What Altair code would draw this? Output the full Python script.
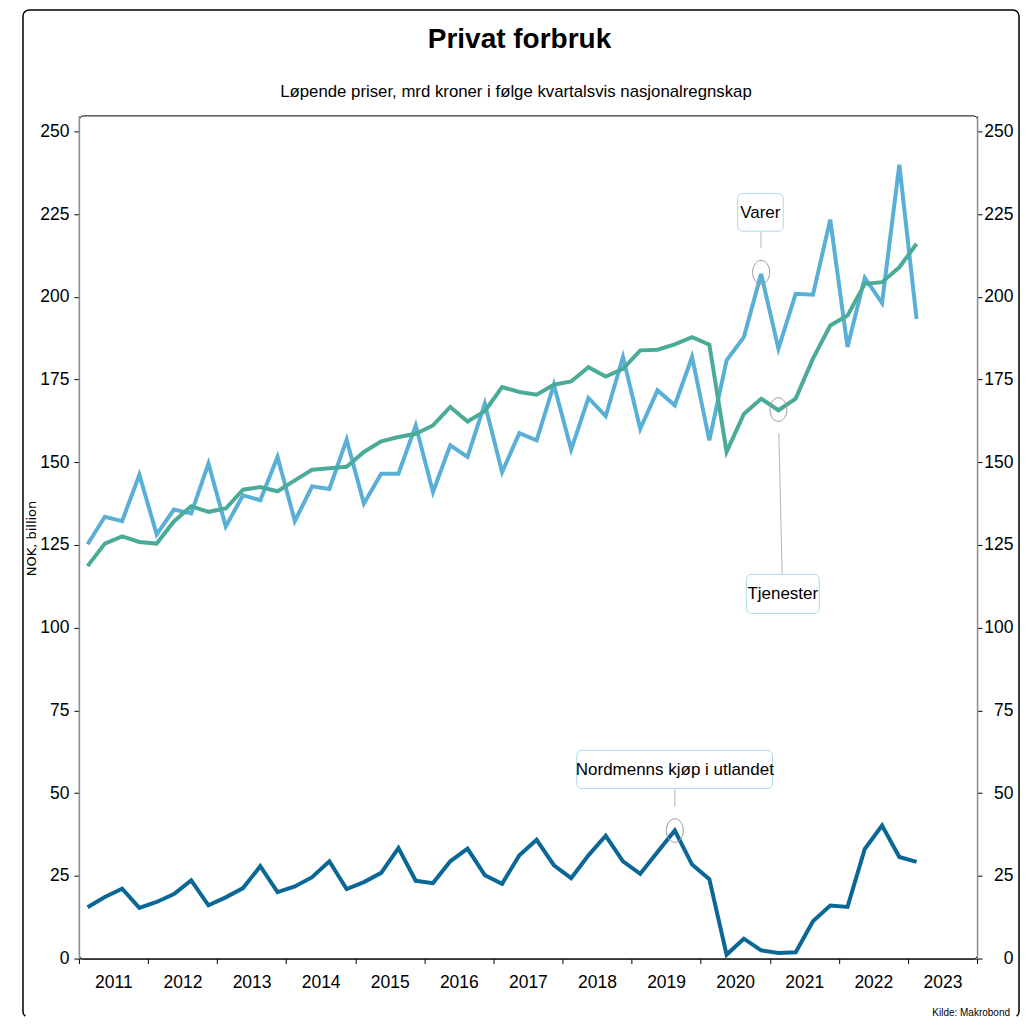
import altair as alt
import pandas as pd

NARROW = "Liberation Sans, Arial, sans-serif"
REG = "Liberation Sans, Arial, sans-serif"

# ---------------- data ----------------
quarters = [f"{y}Q{q}" for y in range(2011, 2024) for q in range(1, 5)][:49]

varer = [125.2, 133.5, 132.2, 146.2, 128.2, 135.7, 134.5, 149.6, 130.6, 140.0,
         138.5, 151.6, 132.2, 142.7, 141.9, 156.8, 137.5, 146.5, 146.5, 161.1,
         141.0, 155.1, 151.6, 167.7, 147.0, 158.8, 156.6, 173.4, 153.8, 169.4,
         163.9, 181.8, 160.1, 171.7, 167.2, 181.8, 156.6, 180.8, 187.8, 206.9,
         184.3, 200.9, 200.6, 223.3, 184.8, 205.7, 198.1, 239.9, 193.3]

tjenester = [118.6, 125.4, 127.6, 125.9, 125.4, 132.1, 136.7, 135.0, 136.0, 141.7,
             142.5, 141.2, 144.5, 147.7, 148.2, 148.6, 153.1, 156.3, 157.6, 158.6,
             161.1, 166.7, 162.3, 165.4, 172.7, 171.2, 170.4, 173.4, 174.4, 178.7,
             175.9, 178.2, 183.8, 184.0, 185.6, 187.8, 185.5, 153.1, 164.6, 169.2,
             165.7, 169.2, 181.3, 191.3, 194.3, 203.9, 204.4, 208.9, 216.0]

nordmenns = [15.5, 18.6, 21.1, 15.3, 17.1, 19.5, 23.6, 16.1, 18.5, 21.3,
             27.9, 20.1, 21.8, 24.6, 29.4, 21.0, 23.1, 25.9, 33.4, 23.5,
             22.8, 29.4, 33.2, 25.2, 22.6, 31.2, 35.9, 28.2, 24.3, 31.2,
             37.1, 29.4, 25.6, 32.2, 38.7, 28.4, 24.0, 1.2, 6.0, 2.5,
             1.7, 1.9, 11.3, 16.0, 15.6, 33.1, 40.2, 30.7, 29.2]

year_ticks = list(range(2011, 2025))
y_ticks = list(range(0, 251, 25))

ann_labels = ["Varer", "Tjenester", "Nordmenns kjøp i utlandet"]
ann_text_x = [2020.862, 2021.188, 2019.626]
ann_text_y = [225.3, 110.2, 57.0]
ann_box_x1 = [2020.534, 2020.660, 2018.206]
ann_box_x2 = [2021.195, 2021.716, 2021.040]
ann_box_y1 = [219.8, 104.3, 51.4]
ann_box_y2 = [231.2, 116.1, 62.9]
ann_line_x1 = [2020.873, 2021.131, 2019.625]
ann_line_x2 = [2020.873, 2021.179, 2019.625]
ann_line_y1 = [214.6, 158.8, 46.0]
ann_line_y2 = [219.6, 116.0, 51.2]
ann_circle_q = ["2020Q4", "2021Q1", "2019Q3"]
ann_circle_y = [207.4, 165.9, 38.7]

COL_VARER = "#5aafd6"
COL_TJEN = "#4aab98"
COL_NORD = "#0b6896"


def qpos(label):
    y, q = label.split("Q")
    return int(y) + (int(q) - 0.5) / 4


xpos = [qpos(q) for q in quarters]

df_v = pd.DataFrame({"x": xpos, "value": varer})
df_t = pd.DataFrame({"x": xpos, "value": tjenester})
df_n = pd.DataFrame({"x": xpos, "value": nordmenns})
df_ann = pd.DataFrame({
    "label": ann_labels,
    "tx": ann_text_x, "ty": ann_text_y,
    "bx1": ann_box_x1, "bx2": ann_box_x2, "by1": ann_box_y1, "by2": ann_box_y2,
    "lx1": ann_line_x1, "lx2": ann_line_x2, "ly1": ann_line_y1, "ly2": ann_line_y2,
    "cx": [qpos(q) for q in ann_circle_q], "cy": ann_circle_y,
})
one = pd.DataFrame({"a": [0]})

W, H = 899, 844

xs = alt.Scale(domain=[2011, 2024], nice=False, zero=False)
ys = alt.Scale(domain=[0, 254.8], nice=False, zero=False)

xaxis = alt.Axis(values=year_ticks, title=None, grid=False,
                 labelExpr="datum.value < 2024 ? format(datum.value, 'd') : ''",
                 labelOffset=34.5, labelFlush=False, labelOverlap=False,
                 labelFont=NARROW, labelFontSize=17.5, labelColor="black",
                 labelPadding=10, tickSize=5, tickColor="black", tickWidth=1,
                 domainColor="black", domainWidth=1)

left_axis = alt.Axis(orient="left", values=y_ticks, grid=False,
                     title="NOK, billion", titleFont="DejaVu Sans", titleFontSize=13,
                     titleFontWeight="normal", titleColor="black",
                     titleX=-47, titleY=423, titleAngle=270, titleAlign="center",
                     titleBaseline="middle",
                     labelFont=NARROW, labelFontSize=17.5, labelColor="black",
                     labelPadding=5, tickSize=5, tickColor="black",
                     domainColor="#8c8c8c", domainWidth=1.5, labelFlush=False)

right_axis = alt.Axis(orient="right", values=y_ticks, grid=False, title=None,
                      labelFont=NARROW, labelFontSize=17.5, labelColor="black",
                      labelAlign="right", labelPadding=31, tickSize=5,
                      tickColor="black", domainColor="#8c8c8c", domainWidth=1.5,
                      labelFlush=False)


def line_layer(df, color, axis):
    return alt.Chart(df).mark_line(strokeWidth=4, color=color, strokeJoin="miter").encode(
        x=alt.X("x:Q", scale=xs, axis=xaxis),
        y=alt.Y("value:Q", scale=ys, axis=axis),
    )


l_varer = line_layer(df_v, COL_VARER, left_axis)
l_tjen = line_layer(df_t, COL_TJEN, None)
l_nord = line_layer(df_n, COL_NORD, right_axis)

boxes = alt.Chart(df_ann).mark_rect(fill="white", stroke="#a9d9e8", strokeWidth=1,
                                    cornerRadius=5).encode(
    x=alt.X("bx1:Q", scale=xs, axis=xaxis), x2="bx2:Q",
    y=alt.Y("by1:Q", scale=ys, axis=None), y2="by2:Q",
)
texts = alt.Chart(df_ann).mark_text(font=NARROW, fontSize=17, color="black",
                                    baseline="middle", align="center").encode(
    x=alt.X("tx:Q", scale=xs, axis=xaxis),
    y=alt.Y("ty:Q", scale=ys, axis=None),
    text="label:N",
)
connectors = alt.Chart(df_ann).mark_rule(color="#b5b5b5", strokeWidth=1).encode(
    x=alt.X("lx1:Q", scale=xs, axis=xaxis), x2="lx2:Q",
    y=alt.Y("ly1:Q", scale=ys, axis=None), y2="ly2:Q",
)
circles = alt.Chart(df_ann).mark_point(
    shape="M0,-1A0.72,1 0 1,1 0,1A0.72,1 0 1,1 0,-1Z",
    size=560, filled=False, stroke="#9a9a9a", strokeWidth=1, opacity=1,
).encode(
    x=alt.X("cx:Q", scale=xs, axis=xaxis),
    y=alt.Y("cy:Q", scale=ys, axis=None),
)

# decorations (outer frame, titles, source)
frame = alt.Chart(one).mark_rect(fill=None, stroke="black", strokeWidth=1.5,
                                 cornerRadius=6).encode(
    x=alt.value(-56), x2=alt.value(941), y=alt.value(-105.5), y2=alt.value(903)
)
frame_cover = alt.Chart(one).mark_rule(color="white", strokeWidth=3).encode(
    x=alt.value(-54), x2=alt.value(939), y=alt.value(903), y2=alt.value(903)
)
title = alt.Chart(one).mark_text(text="Privat forbruk", font=REG, fontSize=28,
                                 fontWeight="bold", color="black", align="center",
                                 baseline="alphabetic").encode(
    x=alt.value(441), y=alt.value(-67.5)
)
subtitle = alt.Chart(one).mark_text(
    text="Løpende priser, mrd kroner i følge kvartalsvis nasjonalregnskap",
    font=NARROW, fontSize=16.8, color="black", align="center", baseline="alphabetic",
).encode(x=alt.value(437.5), y=alt.value(-18))
source = alt.Chart(one).mark_text(text="Kilde: Makrobond", font=NARROW, fontSize=10,
                                  color="black", align="right",
                                  baseline="alphabetic").encode(
    x=alt.value(932), y=alt.value(901)
)

chart = alt.layer(
    frame, frame_cover, l_varer, l_tjen, l_nord, connectors, circles, boxes, texts,
    title, subtitle, source,
).resolve_axis(y="independent").properties(
    width=W, height=H,
    padding={"left": 14, "top": 0, "right": 0, "bottom": 0},
).configure_view(stroke="black", strokeWidth=1, cornerRadius=4)

chart.save("out.html", embed_options={"renderer": "svg", "actions": False})
